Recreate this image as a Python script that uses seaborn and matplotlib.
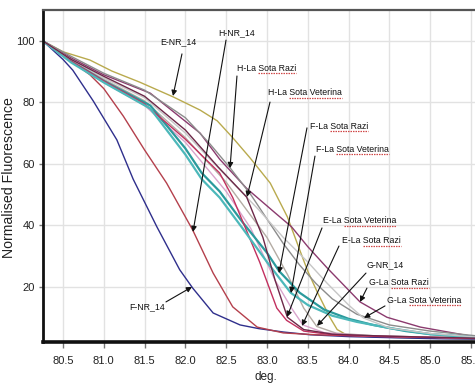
import matplotlib
matplotlib.use("Agg")
import matplotlib.pyplot as plt
from matplotlib.lines import Line2D
from matplotlib.transforms import IdentityTransform
import pandas as pd
import seaborn as sns

# ---------------- data ----------------
E_NR_14_x = [80.255, 80.5, 80.83, 81.1, 81.44, 81.85, 82.18, 82.39, 82.58, 82.79, 83.04, 83.25, 83.4, 83.5, 83.62, 83.77, 83.86, 83.98, 84.3, 85.0, 85.55]
E_NR_14_y = [100, 96.5, 93.8, 90.2, 86.6, 81.8, 77.5, 74.0, 68.5, 62.0, 53.7, 42.7, 32.0, 25.0, 18.0, 10.0, 6.0, 4.2, 3.6, 3.2, 3.0]

F_NR_14_x = [80.255, 80.5, 80.62, 80.87, 81.16, 81.36, 81.65, 81.93, 82.09, 82.34, 82.67, 82.9, 83.2, 83.53, 84.0, 84.6, 85.1, 85.55]
F_NR_14_y = [100, 94.0, 90.5, 80.5, 67.8, 55.0, 39.5, 25.5, 19.5, 11.4, 7.5, 6.3, 5.2, 4.3, 3.7, 3.3, 3.0, 2.9]

G_NR_14_x = [80.255, 80.6, 81.0, 81.5, 82.0, 82.5, 83.0, 83.25, 83.45, 83.61, 83.85, 84.3, 85.0, 85.55]
G_NR_14_y = [100, 94, 87.5, 80.5, 68.5, 54, 36, 24, 13, 7, 4.8, 4, 3.5, 3.2]

H_NR_14_x = [80.255, 80.5, 80.83, 81.0, 81.24, 81.5, 81.77, 82.09, 82.34, 82.58, 82.88, 83.2, 83.6, 84.0, 84.5, 85.0, 85.55]
H_NR_14_y = [100, 95.5, 89.0, 84.5, 75.5, 64.5, 53.7, 38.4, 24.4, 13.4, 6.8, 4.9, 4.3, 4.0, 3.7, 3.5, 3.3]

E_Razi_x = [80.255, 80.6, 81.0, 81.5, 82.0, 82.5, 82.8, 83.1, 83.3, 83.44, 83.7, 84.2, 85.0, 85.55]
E_Razi_y = [100, 93.5, 86.5, 79, 67, 51, 39, 22, 13, 7.5, 5, 4, 3.5, 3.2]

F_Razi_x = [80.255, 80.6, 81.0, 81.57, 82.0, 82.2, 82.42, 82.7, 83.0, 83.15, 83.4, 83.7, 84.0, 84.3, 84.7, 85.0, 85.55]
F_Razi_y = [100, 93.5, 87, 79, 65, 57, 51, 41, 31, 25, 18, 12.5, 9.5, 7.5, 5.5, 4.5, 3.5]

G_Razi_x = [80.255, 80.6, 81.0, 81.57, 82.18, 82.42, 82.75, 83.1, 83.3, 83.5, 83.74, 84.14, 84.47, 84.88, 85.28, 85.55]
G_Razi_y = [100, 94.5, 89, 83, 70, 61.5, 52, 44, 39.5, 33, 26, 15, 10, 6.8, 4.9, 3.6]

H_Razi_x = [80.255, 80.6, 81.0, 81.5, 82.0, 82.3, 82.55, 82.8, 83.0, 83.2, 83.4, 83.6, 83.8, 84.1, 84.5, 85.0, 85.55]
H_Razi_y = [100, 95, 89.5, 84, 75, 66.5, 58.6, 50, 42, 34, 27, 21, 16, 11, 7.5, 5.5, 4]

E_Vet_x = [80.255, 80.6, 81.0, 81.5, 82.0, 82.42, 82.58, 82.91, 83.12, 83.24, 83.45, 83.8, 84.3, 85.0, 85.55]
E_Vet_y = [100, 93.5, 87, 79.5, 68, 57, 49, 28, 13, 9, 5.5, 4.3, 3.8, 3.4, 3.1]

F_Vet_x = [80.255, 80.6, 81.0, 81.57, 82.0, 82.2, 82.42, 82.7, 83.0, 83.29, 83.5, 83.8, 84.1, 84.5, 85.0, 85.55]
F_Vet_y = [100, 93, 86.5, 78, 63, 55, 49, 39, 28, 18, 14, 10.5, 8.5, 6.5, 4.5, 3.5]

G_Vet_x = [80.255, 80.6, 81.0, 81.5, 82.0, 82.5, 82.9, 83.2, 83.5, 83.74, 84.0, 84.18, 84.5, 85.0, 85.55]
G_Vet_y = [100, 94, 88, 81.5, 70, 56, 45, 36, 28, 21, 14, 9.8, 6.5, 4.7, 3.6]

H_Vet_x = [80.255, 80.6, 81.0, 81.5, 82.0, 82.4, 82.75, 82.95, 83.1, 83.25, 83.45, 83.8, 84.3, 85.0, 85.55]
H_Vet_y = [100, 94, 88.5, 82, 71, 59, 49.2, 36, 22, 10, 6, 4.5, 4, 3.5, 3.2]

sample_names = ["E-NR_14", "F-NR_14", "G-NR_14", "H-NR_14",
                "E-La Sota Razi", "F-La Sota Razi", "G-La Sota Razi", "H-La Sota Razi",
                "E-La Sota Veterina", "F-La Sota Veterina", "G-La Sota Veterina", "H-La Sota Veterina"]
x_lists = [E_NR_14_x, F_NR_14_x, G_NR_14_x, H_NR_14_x, E_Razi_x, F_Razi_x, G_Razi_x, H_Razi_x,
           E_Vet_x, F_Vet_x, G_Vet_x, H_Vet_x]
y_lists = [E_NR_14_y, F_NR_14_y, G_NR_14_y, H_NR_14_y, E_Razi_y, F_Razi_y, G_Razi_y, H_Razi_y,
           E_Vet_y, F_Vet_y, G_Vet_y, H_Vet_y]

x_ticks = [80.5, 81.0, 81.5, 82.0, 82.5, 83.0, 83.5, 84.0, 84.5, 85.0, 85.5]
y_ticks = [20, 40, 60, 80, 100]

# annotations: label, text position (data), arrow start (data), arrow tip (data), ha
ann_labels = ["E-NR_14", "H-NR_14", "H-La Sota Razi", "H-La Sota Veterina", "F-La Sota Razi",
              "F-La Sota Veterina", "E-La Sota Veterina", "E-La Sota Razi", "G-NR_14",
              "G-La Sota Razi", "G-La Sota Veterina", "F-NR_14"]
ann_text_x = [81.909, 82.632, 82.632, 83.012, 83.527, 83.600, 83.686, 83.919, 84.225, 84.250, 84.471, 81.529]
ann_text_y = [99.7, 102.6, 91.2, 83.1, 72.3, 64.8, 41.4, 34.9, 27.0, 21.2, 15.6, 13.4]
ann_ha = ["center", "center", "left", "left", "left", "left", "left", "left", "left", "left", "left", "center"]
arrow_from_x = [81.958, 82.498, 82.632, 83.037, 83.490, 83.588, 83.674, 83.882, 84.213, 84.225, 84.446, 81.762]
arrow_from_y = [95.8, 100.3, 88.6, 80.1, 71.7, 62.5, 39.1, 33.2, 24.4, 19.5, 13.7, 15.0]
arrow_to_x = [81.848, 82.093, 82.547, 82.755, 83.147, 83.294, 83.245, 83.429, 83.613, 84.140, 84.189, 82.081]
arrow_to_y = [82.1, 37.8, 58.6, 49.2, 24.4, 17.9, 10.1, 7.2, 7.2, 15.0, 9.8, 19.9]

colors = {
    "E-NR_14": "#b9aa4e",
    "F-NR_14": "#2f2f8c",
    "G-NR_14": "#b4aca4",
    "H-NR_14": "#b4404c",
    "E-La Sota Razi": "#d9a4cc",
    "F-La Sota Razi": "#2a9a9c",
    "G-La Sota Razi": "#8b3a6e",
    "H-La Sota Razi": "#8c8c8c",
    "E-La Sota Veterina": "#c2305f",
    "F-La Sota Veterina": "#4cb8ba",
    "G-La Sota Veterina": "#c6c6c6",
    "H-La Sota Veterina": "#6d2848",
}
widths = {"F-La Sota Razi": 1.6, "F-La Sota Veterina": 1.6}

rows = []
for name, xs, ys in zip(sample_names, x_lists, y_lists):
    for xv, yv in zip(xs, ys):
        rows.append({"sample": name, "deg": xv, "fluor": yv})
df = pd.DataFrame(rows)

# ---------------- styling ----------------
sns.set_theme(style="white")
plt.rcParams["font.family"] = ["Liberation Sans", "DejaVu Sans"]

fig = plt.figure(figsize=(4.75, 3.88), dpi=100)
fig.patch.set_facecolor("white")
ax = fig.add_axes([0.0905, 0.1186, 0.9095, 0.8556])

sns.lineplot(data=df, x="deg", y="fluor", hue="sample", hue_order=sample_names,
             palette=colors, estimator=None, sort=False, legend=False, ax=ax, linewidth=1.0)
for line, name in zip(ax.lines, sample_names):
    line.set_linewidth(widths.get(name, 1.0))

ax.set_xlim(80.255, 85.549)
ax.set_ylim(1.95, 110.1)
ax.set_xticks(x_ticks)
ax.set_xticklabels([f"{v:.1f}" for v in x_ticks])
ax.set_yticks(y_ticks)
ax.set_yticklabels([str(v) for v in y_ticks])
ax.grid(True, color="#e2e2e2", linewidth=1.0)
ax.set_axisbelow(True)
ax.tick_params(axis="x", which="major", length=4, width=1, color="#777777", labelsize=8,
               labelcolor="#222222", pad=6, direction="out", bottom=True)
ax.tick_params(axis="y", which="major", length=3, width=1, color="#777777", labelsize=8,
               labelcolor="#222222", pad=3, direction="out", left=True)

ax.spines["left"].set_color("#111111")
ax.spines["left"].set_linewidth(2.0)
ax.spines["bottom"].set_color("#111111")
ax.spines["bottom"].set_linewidth(2.6)
ax.spines["top"].set_color("#555555")
ax.spines["top"].set_linewidth(1.6)
ax.spines["right"].set_visible(False)

ax.set_xlabel("deg.", fontsize=8.5, color="#222222")
ax.xaxis.set_label_coords(0.516, -0.088)
ax.set_ylabel("Normalised Fluorescence", fontsize=10.2, color="#222222")
ax.yaxis.set_label_coords(-0.062, 0.494)

texts = []
for lab, tx, ty, ha, fx, fy, px, py in zip(ann_labels, ann_text_x, ann_text_y, ann_ha,
                                            arrow_from_x, arrow_from_y, arrow_to_x, arrow_to_y):
    t = ax.text(tx, ty, lab, ha=ha, va="center", fontsize=6.3, color="#111111")
    texts.append(t)
    ax.annotate("", xy=(px, py), xytext=(fx, fy),
                arrowprops=dict(arrowstyle="-|>", color="#111111", lw=0.8,
                                mutation_scale=8, shrinkA=0, shrinkB=0))

# red spell-check style underline under "Sota ..." words
fig.canvas.draw()
renderer = fig.canvas.get_renderer()
for t in texts:
    s = t.get_text()
    if "Sota" not in s:
        continue
    bb = t.get_window_extent(renderer)
    prefix = s.split("Sota")[0].rstrip()
    tmp = fig.text(0, 0, prefix + " ", fontsize=6.3)
    w = tmp.get_window_extent(renderer).width
    tmp.remove()
    y = bb.y0 - 0.2
    fig.add_artist(Line2D([bb.x0 + w, bb.x1], [y, y], transform=IdentityTransform(),
                          color="#d04848", lw=0.9, linestyle=(0, (1.2, 0.8))))

fig.savefig("out.png", dpi=100)
